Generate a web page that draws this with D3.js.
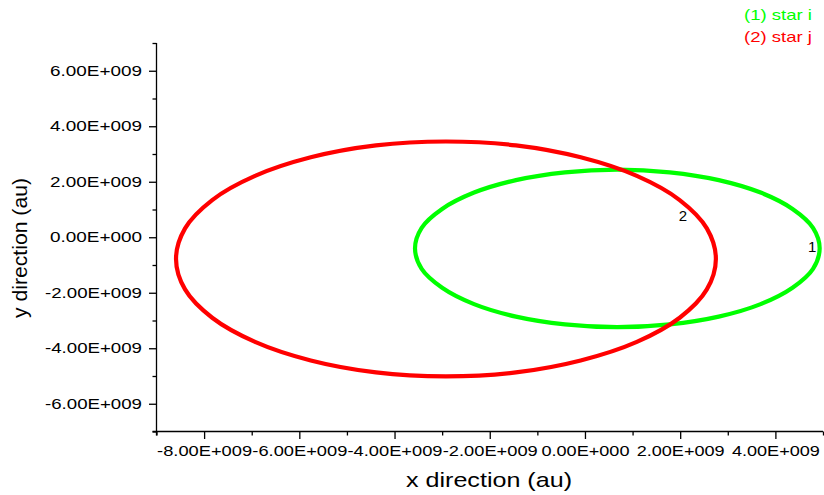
<!DOCTYPE html>
<html>
<head>
<meta charset="utf-8">
<script src="https://cdn.jsdelivr.net/npm/d3@7"></script>
<style>
  html, body { margin: 0; padding: 0; background: #fff; }
  svg { display: block; font-family: Arial, "Liberation Sans", sans-serif; }
</style>
</head>
<body>
<svg id="chart" width="824" height="495"></svg>
<script>
// Orbit of star i (au), sampled around the ellipse
const starI_x = [4.93e9, 4.79e9, 4.36e9, 3.69e9, 2.81e9, 1.78e9, 0.68e9, -0.42e9, -1.45e9, -2.33e9, -3.00e9, -3.43e9,
                 -3.57e9, -3.43e9, -3.00e9, -2.33e9, -1.45e9, -0.42e9, 0.68e9, 1.78e9, 2.81e9, 3.69e9, 4.36e9, 4.79e9];
const starI_y = [-0.40e9, 0.34e9, 1.02e9, 1.61e9, 2.06e9, 2.34e9, 2.44e9, 2.34e9, 2.06e9, 1.61e9, 1.02e9, 0.34e9,
                 -0.40e9, -1.14e9, -1.82e9, -2.41e9, -2.86e9, -3.14e9, -3.24e9, -3.14e9, -2.86e9, -2.41e9, -1.82e9, -1.14e9];

// Orbit of star j (au)
const starJ_x = [2.75e9, 2.56e9, 1.99e9, 1.09e9, -0.09e9, -1.45e9, -2.92e9, -4.39e9, -5.76e9, -6.93e9, -7.83e9, -8.40e9,
                 -8.59e9, -8.40e9, -7.83e9, -6.93e9, -5.76e9, -4.39e9, -2.92e9, -1.45e9, -0.09e9, 1.09e9, 1.99e9, 2.56e9];
const starJ_y = [-0.78e9, 0.32e9, 1.34e9, 2.21e9, 2.88e9, 3.31e9, 3.45e9, 3.31e9, 2.88e9, 2.21e9, 1.34e9, 0.32e9,
                 -0.78e9, -1.88e9, -2.90e9, -3.77e9, -4.44e9, -4.87e9, -5.01e9, -4.87e9, -4.44e9, -3.77e9, -2.90e9, -1.88e9];

// Series names and curve labels
const seriesNames = ["(1) star i", "(2) star j"];
const curveLabels = ["1", "2"];
const curveLabel_x = [4.77e9, 2.06e9];
const curveLabel_y = [-0.36e9, 0.79e9];

// Axis ticks
const xMajorTicks = [-8e9, -6e9, -4e9, -2e9, 0, 2e9, 4e9];
const xMinorTicks = [-9e9, -7e9, -5e9, -3e9, -1e9, 1e9, 3e9, 5e9];
const yMajorTicks = [-6e9, -4e9, -2e9, 0, 2e9, 4e9, 6e9];
const yMinorTicks = [-7e9, -5e9, -3e9, -1e9, 1e9, 3e9, 5e9, 7e9];
const xDomain = [-9e9, 5e9];
const yDomain = [-7e9, 7e9];
const xTitle = "x direction (au)";
const yTitle = "y direction (au)";

const colors = ["#00ff00", "#ff0000"];

const svg = d3.select("#chart");
const plotLeft = 156.5, plotRight = 823, plotTop = 43, plotBottom = 431.5;

const x = d3.scaleLinear().domain(xDomain).range([plotLeft, plotRight]);
const y = d3.scaleLinear().domain(yDomain).range([plotBottom, plotTop]);

// Scientific notation in the style 2.00E+009
function sci(v) {
  if (v === 0) return "0.00E+000";
  const e = Math.floor(Math.log10(Math.abs(v)));
  const m = v / Math.pow(10, e);
  return m.toFixed(2) + "E" + (e >= 0 ? "+" : "-") + String(Math.abs(e)).padStart(3, "0");
}

// Orbits
const line = d3.line()
  .x(d => x(d[0]))
  .y(d => y(d[1]))
  .curve(d3.curveCatmullRomClosed.alpha(0.5));

const orbits = [
  d3.zip(starI_x, starI_y),
  d3.zip(starJ_x, starJ_y)
];

svg.append("g").selectAll("path")
  .data(orbits)
  .join("path")
  .attr("d", line)
  .attr("fill", "none")
  .attr("stroke", (d, i) => colors[i])
  .attr("stroke-width", 4.2);

// Curve number labels
svg.append("g").selectAll("text")
  .data(curveLabels)
  .join("text")
  .attr("x", (d, i) => x(curveLabel_x[i]))
  .attr("y", (d, i) => y(curveLabel_y[i]))
  .attr("dy", "0.35em")
  .attr("text-anchor", "middle")
  .attr("font-size", 15)
  .attr("fill", "#000")
  .text(d => d);

// X axis
const gx = svg.append("g").attr("transform", `translate(0,${plotBottom})`);
gx.call(d3.axisBottom(x).tickValues(xMinorTicks).tickSize(4).tickSizeOuter(0).tickFormat(""));
gx.append("g").call(d3.axisBottom(x).tickValues(xMajorTicks).tickSize(7.5).tickSizeOuter(0).tickFormat(sci))
  .call(g => g.select(".domain").remove());
gx.selectAll(".domain").attr("d", `M${plotLeft - 4},0H${plotRight}`);

gx.selectAll("text")
  .attr("y", 24.5).attr("dy", null)
  .attr("font-size", 14.5).attr("fill", "#000")
  .attr("font-family", "Arial, 'Liberation Sans', sans-serif")
  .attr("textLength", d => d < 0 ? 95 : 88)
  .attr("lengthAdjust", "spacingAndGlyphs");

// Y axis
const gy = svg.append("g").attr("transform", `translate(${plotLeft},0)`);
gy.call(d3.axisLeft(y).tickValues(yMinorTicks).tickSize(4).tickSizeOuter(0).tickFormat(""));
gy.append("g").call(d3.axisLeft(y).tickValues(yMajorTicks).tickSize(7.5).tickSizeOuter(0).tickFormat(sci))
  .call(g => g.select(".domain").remove());
gy.selectAll(".domain").attr("d", `M0,${plotTop}V${plotBottom + 4}`);

gy.selectAll("text")
  .attr("x", -14.5)
  .attr("font-size", 14.5).attr("fill", "#000")
  .attr("font-family", "Arial, 'Liberation Sans', sans-serif")
  .attr("textLength", d => d < 0 ? 97 : 92)
  .attr("lengthAdjust", "spacingAndGlyphs");

svg.selectAll(".domain, .tick line").attr("stroke", "#000").attr("stroke-width", 1.3);

// Axis titles
svg.append("text")
  .attr("x", 489).attr("y", 487)
  .attr("text-anchor", "middle")
  .attr("font-size", 21).attr("fill", "#000")
  .text(xTitle)
  .attr("textLength", 166).attr("lengthAdjust", "spacingAndGlyphs");

svg.append("text")
  .attr("transform", "translate(27,248) rotate(-90)")
  .attr("text-anchor", "middle")
  .attr("font-size", 20).attr("fill", "#000")
  .text(yTitle)
  .attr("textLength", 140).attr("lengthAdjust", "spacingAndGlyphs");

// Legend
svg.append("g").selectAll("text")
  .data(seriesNames)
  .join("text")
  .attr("x", 744)
  .attr("y", (d, i) => 20 + i * 22)
  .attr("font-size", 15)
  .attr("fill", (d, i) => colors[i])
  .text(d => d)
  .attr("textLength", 68).attr("lengthAdjust", "spacingAndGlyphs");
</script>
</body>
</html>
